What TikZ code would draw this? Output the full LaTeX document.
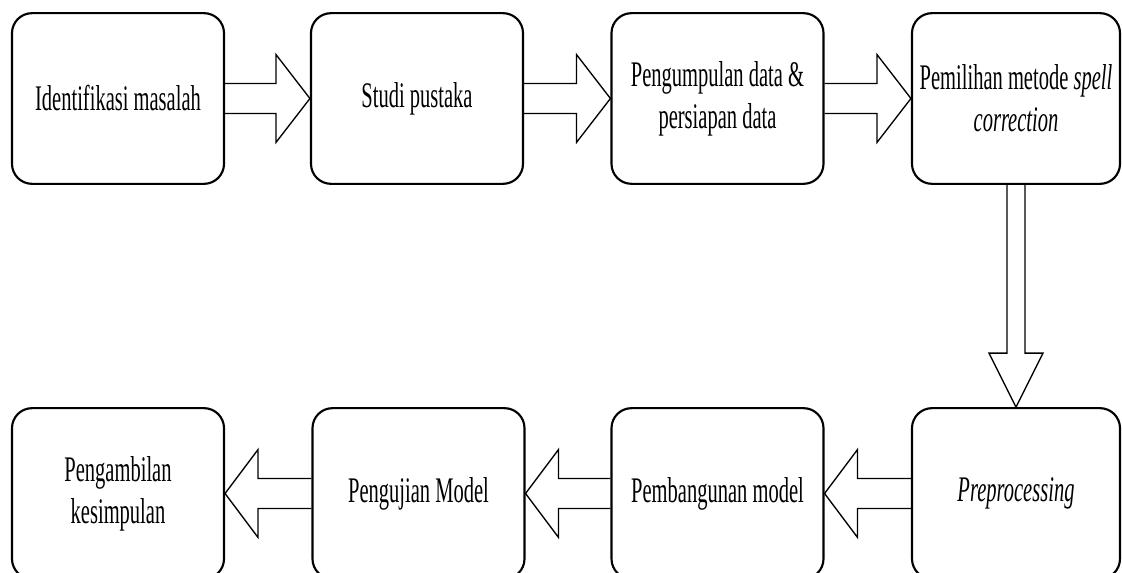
\documentclass[tikz,border=0pt]{standalone}
\usepackage{fontspec}
\setmainfont[FakeStretch=0.57]{Liberation Serif}
\usetikzlibrary{calc}
\begin{document}
\begin{tikzpicture}[x=0.75pt,y=-0.75pt,
  box/.style={draw, line width=1.6pt, rounded corners=15pt, minimum width=159pt,
    minimum height=128pt, align=center, inner sep=2pt,
    font=\fontsize{27}{31.5}\selectfont},
  blockarrow/.style={draw, line width=1pt, line join=miter}]
\useasboundingbox (0,0) rectangle (1122,573);
% top row
\node[box] (b1) at (118,98.5) {Identifikasi masalah};
\node[box] (b2) at (417,98.5) {Studi pustaka};
\node[box] (b3) at (717.5,98.5) {Pengumpulan data \&\\persiapan data};
\node[box, minimum width=156pt] (b4) at (1016,98.5) {Pemilihan metode \textit{spell}\\\textit{correction}};
% bottom row
\node[box, minimum width=156pt] (b5) at (1016,493.5) {\textit{Preprocessing}};
\node[box] (b6) at (717.5,493.5) {Pembangunan model};
\node[box] (b7) at (418.5,493.5) {Pengujian Model};
\node[box] (b8) at (118,493.5) {Pengambilan\\kesimpulan};
% right-pointing block arrows
\foreach \a/\b in {b1/b2, b2/b3, b3/b4}{
  \draw[blockarrow] ($(\a.east)+(0,-15)$) -- ($(\b.west)+(-34,-15)$)
    -- ($(\b.west)+(-34,-44)$) -- (\b.west) -- ($(\b.west)+(-34,44)$)
    -- ($(\b.west)+(-34,15)$) -- ($(\a.east)+(0,15)$);
}
% down arrow
\draw[blockarrow] ($(b4.south)+(-9,0)$) -- ($(b5.north)+(-9,-54)$)
  -- ($(b5.north)+(-27,-54)$) -- (b5.north) -- ($(b5.north)+(27,-54)$)
  -- ($(b5.north)+(9,-54)$) -- ($(b4.south)+(9,0)$);
% left-pointing block arrows
\foreach \a/\b in {b5/b6, b6/b7, b7/b8}{
  \draw[blockarrow] ($(\a.west)+(0,-15)$) -- ($(\b.east)+(33,-15)$)
    -- ($(\b.east)+(33,-44)$) -- (\b.east) -- ($(\b.east)+(33,44)$)
    -- ($(\b.east)+(33,15)$) -- ($(\a.west)+(0,15)$);
}
\end{tikzpicture}
\end{document}
